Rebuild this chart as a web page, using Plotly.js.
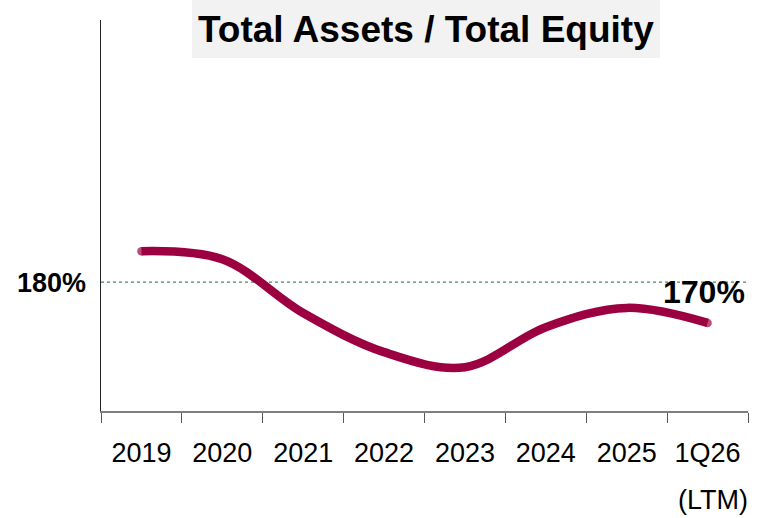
<!DOCTYPE html>
<html>
<head>
<meta charset="utf-8">
<script src="https://cdn.plot.ly/plotly-3.0.1.min.js"></script>
<style>html,body{margin:0;padding:0;background:#fff;}#chart{width:759px;height:518px;}</style>
</head>
<body>
<div id="chart"></div>
<script>
const categories = ['2019','2020','2021','2022','2023','2024','2025','1Q26'];
const tickLabels = ['2019','2020','2021','2022','2023','2024','2025','1Q26'];
const lastTickSubLabel = '(LTM)';
const ratioValues = [187.2, 185.3, 172.8, 163.7, 160.2, 169.5, 174.0, 170.5];
const referenceValue = 180;
const referenceLabel = '180%';
const lastLabel = '170%';
const chartTitle = 'Total Assets / Total Equity';

const FONT = '"Liberation Sans", Arial, sans-serif';
const lineColor = '#9c0041';
const n = categories.length;
const markerSizes = categories.map((c, i) => (i === 0 || i === n - 1) ? 8.5 : 0);

const trace = {
  type: 'scatter',
  mode: 'lines+markers',
  x: categories,
  y: ratioValues,
  line: {color: lineColor, width: 8.5, shape: 'spline', smoothing: 1},
  marker: {color: lineColor, size: markerSizes, line: {width: 0}},
  hoverinfo: 'skip',
  showlegend: false
};

const layout = {
  width: 759, height: 518,
  margin: {l: 101, r: 11, t: 20, b: 107},
  paper_bgcolor: '#ffffff',
  plot_bgcolor: '#ffffff',
  font: {family: FONT, color: '#000'},
  xaxis: {
    type: 'category',
    range: [-0.5, n - 0.5],
    tickmode: 'array',
    tickvals: categories,
    ticktext: tickLabels,
    tickson: 'boundaries',
    ticks: 'outside',
    ticklen: 10,
    tickwidth: 1,
    tickcolor: '#595959',
    tickangle: 0,
    ticklabelstandoff: 17,
    showline: true,
    linecolor: '#7f7f7f',
    linewidth: 1.5,
    showgrid: false,
    zeroline: false,
    tickfont: {family: FONT, size: 27, color: '#000'},
    fixedrange: true
  },
  yaxis: {
    range: [150, 241],
    showline: true,
    linecolor: '#262626',
    linewidth: 1.5,
    showticklabels: false,
    ticks: '',
    showgrid: false,
    zeroline: false,
    fixedrange: true
  },
  shapes: [
    {type: 'line', xref: 'paper', yref: 'y', x0: 0, x1: 1, y0: referenceValue, y1: referenceValue,
     line: {color: '#1a6a35', width: 1, dash: 'dot'}, layer: 'below'},
    {type: 'rect', xref: 'paper', yref: 'paper', x0: 0.1406, x1: 0.864, y0: 0.903, y1: 1.06,
     fillcolor: '#f2f2f2', line: {width: 0}, layer: 'below'}
  ],
  annotations: [
    {text: '<b>' + chartTitle + '</b>', xref: 'paper', yref: 'paper', x: 0.502, y: 0.975,
     xanchor: 'center', yanchor: 'middle', showarrow: false,
     font: {family: FONT, size: 37, color: '#000'}},
    {text: '<b>' + referenceLabel + '</b>', xref: 'paper', yref: 'y', x: -0.02, y: referenceValue,
     xanchor: 'right', yanchor: 'middle', showarrow: false, yshift: -1,
     font: {family: FONT, size: 27, color: '#000'}},
    {text: '<b>' + lastLabel + '</b>', xref: 'x', yref: 'y', x: categories[n - 1], y: referenceValue,
     xanchor: 'center', yanchor: 'middle', showarrow: false, xshift: -4, yshift: -10,
     font: {family: FONT, size: 32, color: '#000'}},
    {text: lastTickSubLabel, xref: 'x', yref: 'paper', x: categories[n - 1], y: -0.228,
     xanchor: 'center', yanchor: 'middle', showarrow: false, xshift: 5,
     font: {family: FONT, size: 27, color: '#000'}}
  ]
};

Plotly.newPlot('chart', [trace], layout, {displayModeBar: false, staticPlot: true});
</script>
</body>
</html>
